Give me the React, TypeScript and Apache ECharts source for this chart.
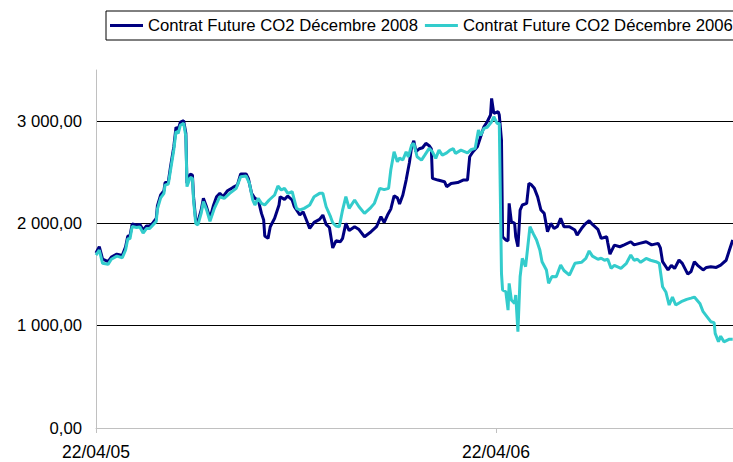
import React, { useEffect, useRef } from 'react';
import * as echarts from 'echarts';

const seriesNames = ['Contrat Future CO2 Décembre 2008', 'Contrat Future CO2 Décembre 2006'];
const xTickLabels = ['22/04/05', '22/04/06'];

// days since 22/04/05
const dec2008Days = [0, 3, 6, 11, 14, 19, 24, 27, 29, 31, 33, 37, 40, 43, 46, 49, 52, 55, 56, 59, 62, 63, 66, 68, 71, 73, 75, 77, 80, 82, 83, 86, 88, 89, 91, 93, 96, 98, 101, 104, 107, 110, 113, 116, 120, 125, 129, 132, 137, 139, 142, 145, 148, 151, 153, 154, 157, 159, 163, 167, 168, 172, 175, 179, 181, 186, 189, 192, 195, 199, 204, 207, 210, 213, 216, 219, 223, 225, 228, 231, 236, 240, 245, 251, 256, 260, 263, 266, 269, 272, 275, 277, 280, 283, 286, 288, 290, 292, 295, 298, 301, 304, 306, 307, 312, 318, 320, 324, 330, 335, 339, 341, 344, 348, 351, 354, 357, 360, 361, 363, 367, 368, 370, 371, 374, 376, 377, 379, 382, 383, 385, 386, 387, 389, 393, 395, 397, 400, 403, 406, 409, 412, 415, 418, 421, 424, 427, 432, 437, 439, 443, 446, 450, 453, 458, 461, 466, 467, 469, 473, 478, 482, 488, 491, 496, 502, 507, 513, 515, 517, 522, 525, 528, 532, 535, 540, 543, 546, 549, 554, 557, 561, 566, 570, 575, 578, 581];
const dec2008Values = [1711, 1772, 1652, 1626, 1671, 1700, 1688, 1772, 1877, 1877, 1994, 1984, 1991, 1935, 1975, 1975, 2007, 2050, 2170, 2278, 2320, 2398, 2408, 2554, 2750, 2940, 2920, 2991, 3004, 2881, 2392, 2483, 2473, 2261, 2033, 2017, 2131, 2245, 2157, 2050, 2170, 2261, 2294, 2261, 2320, 2352, 2375, 2483, 2483, 2441, 2294, 2245, 2230, 2098, 2033, 1877, 1854, 1968, 2050, 2180, 2261, 2235, 2268, 2229, 2163, 2082, 2114, 2033, 1952, 2010, 2040, 2082, 1990, 1960, 1760, 1830, 1821, 1854, 2000, 1930, 1968, 1940, 1870, 1919, 1968, 2066, 2010, 2082, 2140, 2270, 2250, 2190, 2278, 2424, 2595, 2750, 2808, 2701, 2730, 2740, 2783, 2760, 2730, 2441, 2424, 2408, 2359, 2390, 2400, 2424, 2424, 2652, 2701, 2750, 2848, 2945, 2994, 3060, 3222, 3076, 3092, 3060, 2815, 1870, 1838, 1830, 2196, 2017, 2000, 1870, 1772, 1950, 2131, 2180, 2196, 2392, 2380, 2343, 2260, 2131, 2098, 1919, 2000, 1950, 1970, 2050, 1968, 1968, 1935, 1886, 1950, 1990, 2026, 1990, 1942, 1854, 1870, 1810, 1700, 1788, 1772, 1790, 1821, 1790, 1805, 1821, 1790, 1805, 1760, 1626, 1545, 1590, 1560, 1642, 1610, 1504, 1530, 1626, 1590, 1545, 1570, 1577, 1570, 1593, 1640, 1740, 1838];

const dec2006Days = [0, 3, 6, 11, 14, 19, 24, 27, 29, 31, 33, 37, 40, 43, 46, 49, 52, 55, 56, 59, 62, 63, 66, 68, 71, 73, 75, 77, 80, 82, 83, 86, 88, 89, 91, 93, 96, 98, 101, 104, 108, 113, 117, 122, 128, 132, 137, 140, 143, 145, 148, 151, 154, 158, 163, 166, 169, 172, 175, 179, 183, 186, 190, 195, 199, 204, 207, 210, 214, 216, 219, 222, 225, 228, 231, 236, 240, 245, 250, 254, 259, 263, 267, 269, 272, 275, 277, 280, 283, 285, 288, 290, 293, 297, 300, 304, 307, 310, 313, 316, 320, 323, 326, 328, 333, 339, 342, 346, 349, 351, 354, 357, 361, 363, 366, 368, 370, 371, 374, 376, 377, 379, 382, 383, 385, 387, 389, 392, 394, 396, 399, 402, 405, 407, 411, 413, 416, 420, 424, 427, 432, 437, 443, 447, 450, 453, 458, 461, 464, 467, 470, 473, 479, 484, 488, 491, 494, 497, 502, 506, 511, 514, 517, 520, 523, 526, 529, 534, 539, 543, 546, 551, 554, 558, 561, 564, 565, 568, 570, 573, 578, 581];
const dec2006Values = [1690, 1740, 1610, 1600, 1650, 1680, 1665, 1740, 1850, 1850, 1970, 1960, 1965, 1905, 1950, 1950, 1985, 2020, 2140, 2250, 2295, 2375, 2385, 2520, 2720, 2900, 2880, 2960, 2980, 2850, 2360, 2450, 2440, 2230, 2000, 1985, 2100, 2215, 2130, 2020, 2147, 2261, 2245, 2294, 2343, 2457, 2463, 2392, 2229, 2180, 2245, 2196, 2180, 2229, 2278, 2366, 2327, 2343, 2294, 2310, 2147, 2131, 2147, 2180, 2261, 2294, 2294, 2163, 2066, 2007, 1975, 1968, 2131, 2261, 2147, 2229, 2163, 2098, 2147, 2196, 2343, 2330, 2343, 2522, 2701, 2603, 2640, 2620, 2701, 2650, 2766, 2783, 2652, 2619, 2668, 2734, 2700, 2636, 2717, 2668, 2690, 2717, 2730, 2685, 2717, 2690, 2720, 2734, 2913, 2860, 2929, 2940, 2994, 3043, 2978, 2978, 1512, 1349, 1332, 1153, 1414, 1251, 1218, 1300, 941, 1479, 1658, 1577, 1772, 1968, 1900, 1838, 1740, 1626, 1545, 1414, 1480, 1479, 1593, 1540, 1495, 1610, 1620, 1658, 1731, 1680, 1650, 1660, 1640, 1650, 1561, 1590, 1561, 1610, 1691, 1640, 1650, 1620, 1658, 1640, 1626, 1610, 1381, 1330, 1202, 1280, 1202, 1235, 1258, 1270, 1280, 1218, 1137, 1082, 1039, 1030, 925, 843, 898, 843, 868, 868];

const FONT = '"Liberation Sans", Arial, sans-serif';

function frNumber(v: number): string {
  const s = Math.round(v).toString().replace(/\B(?=(\d{3})+(?!\d))/g, ' ');
  return s + ',00';
}

function zip(xs: number[], ys: number[]) {
  return xs.map((x, i) => [x, ys[i]]);
}

export default function App() {
  const ref = useRef<HTMLDivElement>(null);
  useEffect(() => {
    const chart = echarts.init(ref.current as HTMLDivElement, null, { renderer: 'svg' });
    chart.setOption({
      animation: false,
      backgroundColor: '#fff',
      textStyle: { fontFamily: FONT },
      legend: {
        data: seriesNames,
        left: 106,
        top: 11,
        padding: [6, 5, 6, 4],
        borderColor: '#000',
        borderWidth: 1,
        icon: 'rect',
        itemWidth: 33,
        itemHeight: 3,
        itemGap: 7,
        textStyle: { fontFamily: FONT, fontSize: 16.7, color: '#000' },
      },
      grid: { left: 96, top: 70, width: 800, height: 358, outerBoundsMode: 'none', containLabel: false },
      xAxis: {
        type: 'value',
        min: 0,
        max: 730,
        interval: 365,
        axisLine: { show: true, lineStyle: { color: '#c0c0c0', width: 1 } },
        axisTick: { show: true, length: 5, lineStyle: { color: '#c0c0c0' } },
        splitLine: { show: false },
        axisLabel: {
          margin: 15,
          fontFamily: FONT,
          fontSize: 17.5,
          color: '#000',
          formatter: (v: number) => {
            const i = Math.round(v / 365);
            return Math.abs(v - i * 365) < 1e-6 ? xTickLabels[i] ?? '' : '';
          },
        },
      },
      yAxis: {
        type: 'value',
        min: 0,
        max: 3500,
        interval: 1000,
        axisLine: { show: true, lineStyle: { color: '#c0c0c0', width: 1 } },
        axisTick: { show: false },
        splitLine: { show: true, showMinLine: false, showMaxLine: false, lineStyle: { color: '#000', width: 1 } },
        axisLabel: {
          margin: 14,
          fontFamily: FONT,
          fontSize: 16.7,
          color: '#000',
          showMaxLabel: false,
          formatter: (v: number) => (v % 1000 === 0 ? frNumber(v) : ''),
        },
      },
      series: [
        {
          name: seriesNames[0],
          type: 'line',
          symbol: 'none',
          data: zip(dec2008Days, dec2008Values),
          lineStyle: { color: '#000080', width: 3 },
          itemStyle: { color: '#000080' },
        },
        {
          name: seriesNames[1],
          type: 'line',
          symbol: 'none',
          data: zip(dec2006Days, dec2006Values),
          lineStyle: { color: '#33CCCC', width: 3 },
          itemStyle: { color: '#33CCCC' },
        },
      ],
    });
    return () => chart.dispose();
  }, []);
  return (
    <div style={{ position: 'fixed', left: 0, top: 0, width: 733, height: 462, overflow: 'hidden', background: '#fff' }}>
      <div ref={ref} style={{ width: 1000, height: 462 }} />
    </div>
  );
}
